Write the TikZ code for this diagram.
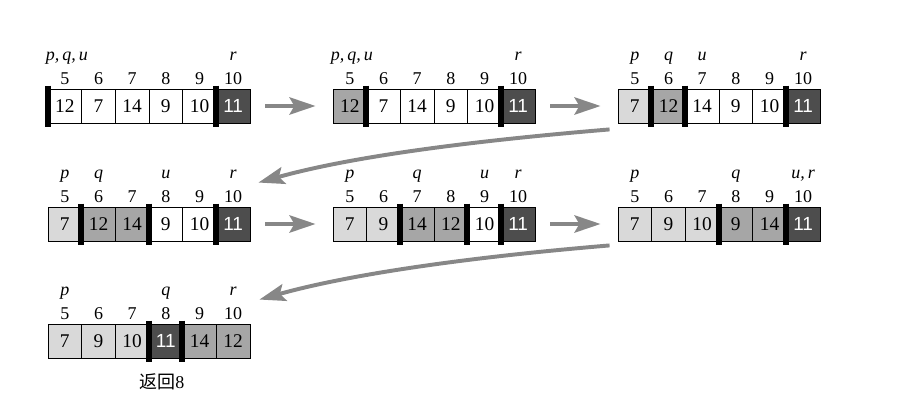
\documentclass[tikz,border=0pt]{standalone}
\usepackage{fontspec}
\setmainfont{Liberation Serif}
\setsansfont{Liberation Sans}
\newfontfamily\cjk{Noto Sans CJK SC}
\usetikzlibrary{arrows.meta}

\definecolor{cellLight}{HTML}{D9D9D9}
\definecolor{cellMid}{HTML}{A6A6A6}
\definecolor{cellDark}{HTML}{4D4D4D}
\definecolor{arrowGray}{HTML}{878787}

% white sans number in the dark pivot cell
\newcommand{\pivnum}[1]{\textcolor{white}{\sffamily\fontsize{13.5}{15}\selectfont #1}}

\begin{document}
\begin{tikzpicture}[
    x=0.025cm,
    y=-0.025cm,
    cell/.style={
        draw,
        line width=0.6pt,
        minimum width=0.842cm,
        minimum height=0.85cm,
        inner sep=0pt,
        font=\fontsize{13.8}{15}\selectfont
    },
    index/.style={
        anchor=base,
        inner sep=0pt,
        font=\fontsize{12.8}{14}\selectfont
    },
    pointer/.style={
        anchor=base,
        inner sep=0pt,
        font=\fontsize{12.8}{14}\selectfont\itshape
    },
    bar/.style={
        line width=4.3pt,
        shorten <=-0.075cm,
        shorten >=-0.1cm
    },
    flow/.style={
        -{Stealth[length=0.65cm, width=0.43cm, inset=0.12cm]},
        draw=arrowGray,
        line width=2.8pt
    },
    straight/.style={
        flow,
        shorten <=0.375cm,
        shorten >=0.425cm
    }
]

\useasboundingbox (0,0) rectangle (903,401);

% Left edges and tops of the arrays
\def\ColA{48}
\def\ColB{333}
\def\ColC{618}
\def\RowA{89}
\def\RowB{207}
\def\RowC{324}
\def\W{33.67}

% ==================================================
% Row 1
% ==================================================

\foreach \v/\f [count=\i] in {12/white,7/white,14/white,9/white,10/white,\pivnum{11}/cellDark} {
    \pgfmathtruncatemacro{\n}{\i+4}
    \node[cell, fill=\f] (a1-\i) at ({\ColA+(\i-0.5)*\W},\RowA+17) {\v};
    \node[index] (a1-n\i) at ({\ColA+(\i-0.5)*\W},\RowA-5) {\n};
}
\node[pointer] (a1-p) at ([xshift=0.05cm, yshift=0.575cm]a1-n1.base) {p,\,q,\,u};
\node[pointer] (a1-r) at ([yshift=0.575cm]a1-n6.base) {r};
\foreach \k in {1,6}
    \draw[bar] (a1-\k.north west) -- (a1-\k.south west);

\foreach \v/\f [count=\i] in {12/cellMid,7/white,14/white,9/white,10/white,\pivnum{11}/cellDark} {
    \pgfmathtruncatemacro{\n}{\i+4}
    \node[cell, fill=\f] (a2-\i) at ({\ColB+(\i-0.5)*\W},\RowA+17) {\v};
    \node[index] (a2-n\i) at ({\ColB+(\i-0.5)*\W},\RowA-5) {\n};
}
\node[pointer] (a2-p) at ([xshift=0.05cm, yshift=0.575cm]a2-n1.base) {p,\,q,\,u};
\node[pointer] (a2-r) at ([yshift=0.575cm]a2-n6.base) {r};
\foreach \k in {2,6}
    \draw[bar] (a2-\k.north west) -- (a2-\k.south west);

\foreach \v/\f [count=\i] in {7/cellLight,12/cellMid,14/white,9/white,10/white,\pivnum{11}/cellDark} {
    \pgfmathtruncatemacro{\n}{\i+4}
    \node[cell, fill=\f] (a3-\i) at ({\ColC+(\i-0.5)*\W},\RowA+17) {\v};
    \node[index] (a3-n\i) at ({\ColC+(\i-0.5)*\W},\RowA-5) {\n};
}
\node[pointer] (a3-p) at ([yshift=0.575cm]a3-n1.base) {p};
\node[pointer] (a3-q) at ([yshift=0.575cm]a3-n2.base) {q};
\node[pointer] (a3-u) at ([yshift=0.575cm]a3-n3.base) {u};
\node[pointer] (a3-r) at ([yshift=0.575cm]a3-n6.base) {r};
\foreach \k in {2,3,6}
    \draw[bar] (a3-\k.north west) -- (a3-\k.south west);

% ==================================================
% Row 2
% ==================================================

\foreach \v/\f [count=\i] in {7/cellLight,12/cellMid,14/cellMid,9/white,10/white,\pivnum{11}/cellDark} {
    \pgfmathtruncatemacro{\n}{\i+4}
    \node[cell, fill=\f] (a4-\i) at ({\ColA+(\i-0.5)*\W},\RowB+17) {\v};
    \node[index] (a4-n\i) at ({\ColA+(\i-0.5)*\W},\RowB-5) {\n};
}
\node[pointer] (a4-p) at ([yshift=0.575cm]a4-n1.base) {p};
\node[pointer] (a4-q) at ([yshift=0.575cm]a4-n2.base) {q};
\node[pointer] (a4-u) at ([yshift=0.575cm]a4-n4.base) {u};
\node[pointer] (a4-r) at ([yshift=0.575cm]a4-n6.base) {r};
\foreach \k in {2,4,6}
    \draw[bar] (a4-\k.north west) -- (a4-\k.south west);

\foreach \v/\f [count=\i] in {7/cellLight,9/cellLight,14/cellMid,12/cellMid,10/white,\pivnum{11}/cellDark} {
    \pgfmathtruncatemacro{\n}{\i+4}
    \node[cell, fill=\f] (a5-\i) at ({\ColB+(\i-0.5)*\W},\RowB+17) {\v};
    \node[index] (a5-n\i) at ({\ColB+(\i-0.5)*\W},\RowB-5) {\n};
}
\node[pointer] (a5-p) at ([yshift=0.575cm]a5-n1.base) {p};
\node[pointer] (a5-q) at ([yshift=0.575cm]a5-n3.base) {q};
\node[pointer] (a5-u) at ([yshift=0.575cm]a5-n5.base) {u};
\node[pointer] (a5-r) at ([yshift=0.575cm]a5-n6.base) {r};
\foreach \k in {3,5,6}
    \draw[bar] (a5-\k.north west) -- (a5-\k.south west);

\foreach \v/\f [count=\i] in {7/cellLight,9/cellLight,10/cellLight,9/cellMid,14/cellMid,\pivnum{11}/cellDark} {
    \pgfmathtruncatemacro{\n}{\i+4}
    \node[cell, fill=\f] (a6-\i) at ({\ColC+(\i-0.5)*\W},\RowB+17) {\v};
    \node[index] (a6-n\i) at ({\ColC+(\i-0.5)*\W},\RowB-5) {\n};
}
\node[pointer] (a6-p) at ([yshift=0.575cm]a6-n1.base) {p};
\node[pointer] (a6-q) at ([yshift=0.575cm]a6-n4.base) {q};
\node[pointer] (a6-r) at ([yshift=0.575cm]a6-n6.base) {u,\,r};
\foreach \k in {4,6}
    \draw[bar] (a6-\k.north west) -- (a6-\k.south west);

% ==================================================
% Row 3
% ==================================================

\foreach \v/\f [count=\i] in {7/cellLight,9/cellLight,10/cellLight,\pivnum{11}/cellDark,14/cellMid,12/cellMid} {
    \pgfmathtruncatemacro{\n}{\i+4}
    \node[cell, fill=\f] (a7-\i) at ({\ColA+(\i-0.5)*\W},\RowC+17) {\v};
    \node[index] (a7-n\i) at ({\ColA+(\i-0.5)*\W},\RowC-5) {\n};
}
\node[pointer] (a7-p) at ([yshift=0.575cm]a7-n1.base) {p};
\node[pointer] (a7-q) at ([yshift=0.575cm]a7-n4.base) {q};
\node[pointer] (a7-r) at ([yshift=0.575cm]a7-n6.base) {r};
\foreach \k in {4,5}
    \draw[bar] (a7-\k.north west) -- (a7-\k.south west);

\node[font=\fontsize{12.8}{14}\selectfont] (ret) at ([shift={(-4,23)}]a7-4.south)
    {{\cjk 返回}8};

% ==================================================
% Steps between the arrays
% ==================================================

\draw[straight] (a1-6.east) -- (a2-1.west);
\draw[straight] (a2-6.east) -- (a3-1.west);
\draw[straight] (a4-6.east) -- (a5-1.west);
\draw[straight] (a5-6.east) -- (a6-1.west);

% wrap to the next row
\coordinate (turn1) at ([shift={(-8,6)}]a3-1.south west);
\coordinate (land1) at ([shift={(8,-24)}]a4-6.north east);
\draw[flow] (turn1) .. controls +(-120,10) and +(100,-28) .. (land1);

\coordinate (turn2) at ([shift={(-8,4)}]a6-1.south west);
\coordinate (land2) at ([shift={(9,-24)}]a7-6.north east);
\draw[flow] (turn2) .. controls +(-120,10) and +(100,-28) .. (land2);

\end{tikzpicture}
\end{document}
